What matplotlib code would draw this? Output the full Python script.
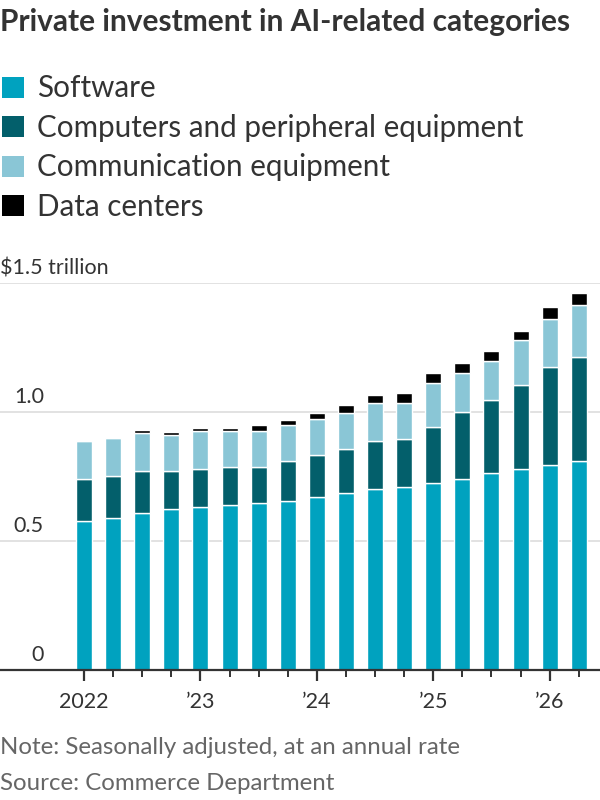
import matplotlib.pyplot as plt
from matplotlib.patches import Patch
import numpy as np

quarters = ['2022Q1', '2022Q2', '2022Q3', '2022Q4',
            '2023Q1', '2023Q2', '2023Q3', '2023Q4',
            '2024Q1', '2024Q2', '2024Q3', '2024Q4',
            '2025Q1', '2025Q2', '2025Q3', '2025Q4',
            '2026Q1', '2026Q2']
# $ trillion, annual rate
software = [0.578, 0.591, 0.608, 0.623, 0.632, 0.639, 0.647, 0.654, 0.671,
            0.686, 0.701, 0.710, 0.725, 0.740, 0.764, 0.779, 0.795, 0.810]
computers = [0.162, 0.162, 0.162, 0.147, 0.147, 0.147, 0.139, 0.156, 0.163,
             0.171, 0.187, 0.186, 0.218, 0.260, 0.281, 0.327, 0.380, 0.404]
communication = [0.146, 0.147, 0.148, 0.139, 0.146, 0.139, 0.139, 0.138, 0.140,
                 0.139, 0.147, 0.139, 0.170, 0.152, 0.154, 0.171, 0.187, 0.201]
data_centers = [0.0, 0.0, 0.013, 0.014, 0.014, 0.014, 0.023, 0.022, 0.021,
                0.030, 0.030, 0.038, 0.038, 0.037, 0.037, 0.037, 0.046, 0.047]
series_names = ['Software', 'Computers and peripheral equipment',
                'Communication equipment', 'Data centers']
colors = ['#00a2bf', '#035f6b', '#8ac6d6', '#000000']
year_labels = ['2022', '\u201923', '\u201924', '\u201925', '\u201926']
y_ticks = [0, 0.5, 1.0, 1.5]
y_labels = ['0', '0.5', '1.0', '$1.5 trillion']

plt.rcParams['font.family'] = ['Lato', 'DejaVu Sans']

fig = plt.figure(figsize=(6, 8), dpi=100)
ax = fig.add_axes([0.0, 0.1625, 1.0, 0.4838])

x = np.arange(len(quarters))
bottom = np.zeros(len(quarters))
for vals, c in zip([software, computers, communication, data_centers], colors):
    vals = np.array(vals)
    ax.bar(x, vals, bottom=bottom, width=0.55, color=c,
           edgecolor='white', linewidth=1.0, zorder=3)
    bottom += vals

ax.set_xlim(-2.89, 17.73)
ax.set_ylim(0, 1.5)

for s in ['top', 'right', 'left']:
    ax.spines[s].set_visible(False)
ax.spines['bottom'].set_color('#333333')
ax.spines['bottom'].set_linewidth(1.6)
ax.spines['bottom'].set_zorder(4)

# gridlines and labels sitting above them
for v, lab in zip(y_ticks, y_labels):
    if v > 0:
        ax.axhline(v, color='#dddddd', linewidth=1.2, zorder=1)
    if lab.startswith('$'):
        ax.text(0.0, v + 0.018, lab, transform=ax.get_yaxis_transform(),
                ha='left', va='bottom', fontsize=15.5, color='#333333')
    else:
        ax.text(44 / 600, v + 0.018, lab, transform=ax.get_yaxis_transform(),
                ha='right', va='bottom', fontsize=15.5, color='#333333')
ax.set_yticks([])

major = x[::4]
ax.set_xticks(major)
ax.set_xticklabels(year_labels, fontsize=15.5, color='#333333')
ax.set_xticks(x, minor=True)
ax.tick_params(axis='x', which='major', length=8, width=1.6, color='#333333', pad=8)
ax.tick_params(axis='x', which='minor', length=5, width=1.4, color='#333333')

fig.text(0.0, 0.99, 'Private investment in AI-related categories',
         fontsize=21.5, fontweight='bold', color='#333333', ha='left', va='top')

handles = [Patch(facecolor=c, edgecolor='none') for c in colors]
fig.legend(handles, series_names, loc='upper left', bbox_to_anchor=(0.004, 0.907),
           frameon=False, fontsize=21.3, handlelength=0.72, handleheight=0.72,
           handletextpad=0.45, labelspacing=0.39, borderaxespad=0, borderpad=0,
           labelcolor='#333333')

fig.text(0.0, 0.065, 'Note: Seasonally adjusted, at an annual rate',
         fontsize=17.3, color='#666666', ha='left', va='center')
fig.text(0.0, 0.021, 'Source: Commerce Department',
         fontsize=17.3, color='#666666', ha='left', va='center')

fig.savefig('out.png', dpi=100)
